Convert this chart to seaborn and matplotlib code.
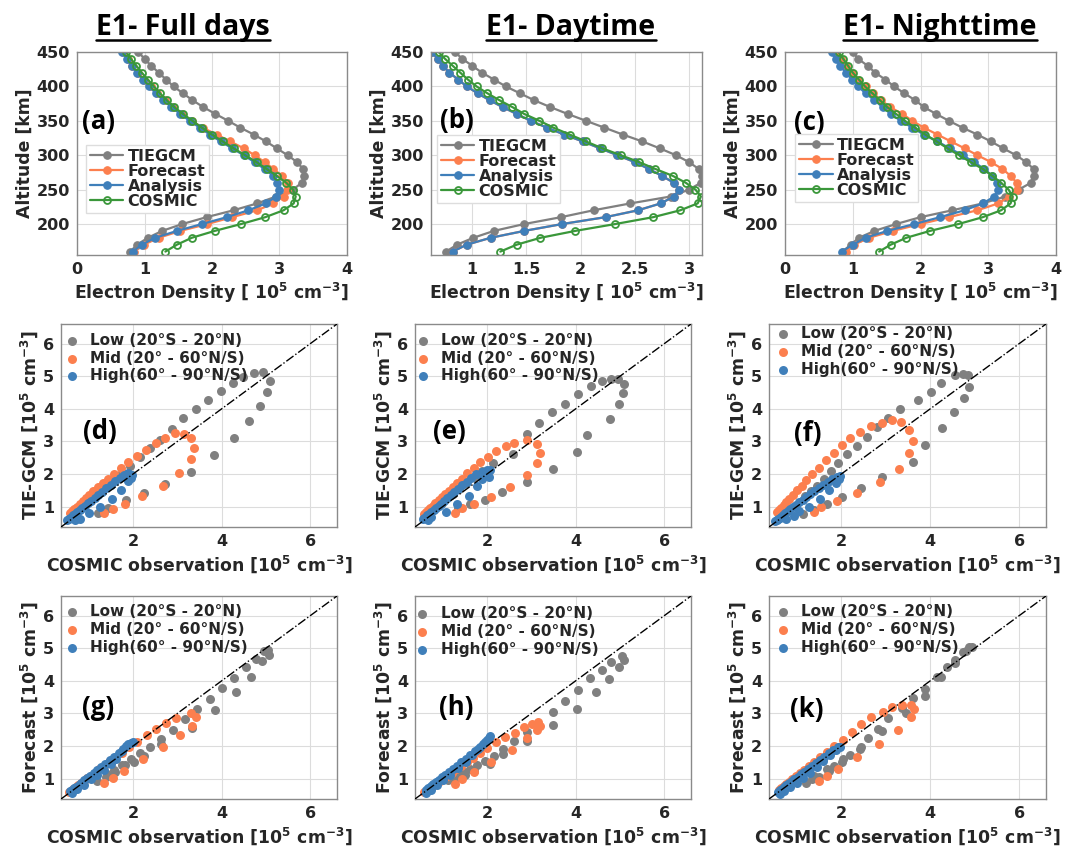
import matplotlib
matplotlib.use("Agg")
import matplotlib.pyplot as plt
import seaborn as sns
from matplotlib.lines import Line2D

sns.set_style("white")
plt.rcParams["font.family"] = ["DejaVu Sans"]
plt.rcParams["font.weight"] = "bold"
plt.rcParams["axes.labelweight"] = "bold"
plt.rcParams["mathtext.fontset"] = "dejavusans"
plt.rcParams["mathtext.default"] = "bf"

# ---------------- data ----------------
altitude = [160, 170, 180, 190, 200, 210, 220, 230, 240, 250, 260, 270, 280, 290, 300,
            310, 320, 330, 340, 350, 360, 370, 380, 390, 400, 410, 420, 430, 440, 450]

series_names = ["TIEGCM", "Forecast", "Analysis", "COSMIC"]

# (a) Full days
a_tiegcm = [0.79, 0.89, 1.05, 1.26, 1.56, 1.92, 2.32, 2.67, 2.95, 3.20, 3.33, 3.37, 3.35, 3.26, 3.12,
            2.96, 2.80, 2.62, 2.42, 2.24, 2.05, 1.87, 1.71, 1.57, 1.43, 1.32, 1.21, 1.10, 1.00, 0.91]
a_forecast = [0.84, 0.99, 1.21, 1.53, 1.93, 2.30, 2.67, 2.91, 3.06, 3.11, 3.12, 3.04, 2.91, 2.78, 2.63,
              2.47, 2.27, 2.07, 1.86, 1.70, 1.55, 1.42, 1.30, 1.19, 1.09, 0.99, 0.90, 0.82, 0.75, 0.68]
a_analysis = [0.83, 0.96, 1.16, 1.48, 1.85, 2.22, 2.54, 2.80, 2.95, 3.00, 2.97, 2.91, 2.78, 2.63, 2.47,
              2.30, 2.13, 1.97, 1.82, 1.67, 1.53, 1.40, 1.28, 1.17, 1.07, 0.98, 0.89, 0.81, 0.74, 0.67]
a_cosmic = [1.31, 1.48, 1.70, 2.04, 2.43, 2.79, 3.06, 3.21, 3.24, 3.20, 3.10, 2.96, 2.81, 2.66, 2.49,
            2.32, 2.16, 2.00, 1.85, 1.71, 1.57, 1.44, 1.33, 1.23, 1.14, 1.05, 0.96, 0.88, 0.80, 0.73]

# (b) Daytime
b_tiegcm = [0.76, 0.86, 1.01, 1.20, 1.48, 1.82, 2.12, 2.46, 2.83, 3.00, 3.11, 3.12, 3.09, 3.00, 2.88,
            2.73, 2.57, 2.39, 2.22, 2.05, 1.88, 1.72, 1.57, 1.44, 1.31, 1.20, 1.09, 1.00, 0.91, 0.84]
b_forecast = [0.82, 0.95, 1.17, 1.48, 1.83, 2.23, 2.53, 2.74, 2.86, 2.91, 2.86, 2.75, 2.63, 2.50, 2.34,
              2.18, 2.02, 1.85, 1.69, 1.54, 1.41, 1.28, 1.16, 1.05, 0.95, 0.87, 0.79, 0.73, 0.68, 0.63]
b_analysis = [0.82, 0.95, 1.17, 1.48, 1.83, 2.23, 2.53, 2.74, 2.86, 2.91, 2.86, 2.75, 2.63, 2.50, 2.34,
              2.18, 2.02, 1.85, 1.69, 1.54, 1.41, 1.28, 1.16, 1.05, 0.95, 0.87, 0.79, 0.73, 0.68, 0.63]
b_cosmic = [1.26, 1.41, 1.63, 1.95, 2.32, 2.67, 2.92, 3.08, 3.11, 3.06, 2.97, 2.85, 2.69, 2.54, 2.37,
            2.20, 2.05, 1.90, 1.75, 1.62, 1.48, 1.37, 1.25, 1.14, 1.04, 0.96, 0.89, 0.82, 0.75, 0.69]

# (c) Nighttime
c_tiegcm = [0.85, 0.97, 1.09, 1.32, 1.64, 2.00, 2.47, 2.92, 3.25, 3.45, 3.63, 3.68, 3.67, 3.56, 3.41,
            3.22, 3.04, 2.84, 2.62, 2.42, 2.23, 2.05, 1.92, 1.76, 1.61, 1.48, 1.33, 1.22, 1.08, 1.00]
c_forecast = [0.90, 1.02, 1.24, 1.59, 2.00, 2.42, 2.84, 3.15, 3.31, 3.42, 3.42, 3.33, 3.21, 3.04, 2.84,
              2.65, 2.45, 2.25, 2.05, 1.88, 1.73, 1.55, 1.42, 1.30, 1.19, 1.08, 0.99, 0.90, 0.82, 0.75]
c_analysis = [0.84, 1.00, 1.19, 1.51, 1.91, 2.29, 2.65, 2.92, 3.09, 3.15, 3.13, 3.06, 2.94, 2.79, 2.62,
              2.43, 2.25, 2.05, 1.88, 1.71, 1.56, 1.44, 1.32, 1.19, 1.08, 0.99, 0.90, 0.81, 0.75, 0.69]
c_cosmic = [1.39, 1.56, 1.79, 2.14, 2.56, 2.92, 3.19, 3.33, 3.36, 3.30, 3.19, 3.06, 2.92, 2.74, 2.57,
            2.40, 2.24, 2.07, 1.92, 1.77, 1.64, 1.51, 1.40, 1.29, 1.18, 1.09, 1.00, 0.93, 0.86, 0.79]

band_names = ["Low (20°S - 20°N)", "Mid (20° - 60°N/S)", "High(60° - 90°N/S)"]

# (d) TIE-GCM vs COSMIC, full days
d_low_x = [1.22, 1.45, 1.85, 2.26, 2.73, 3.31, 3.83, 4.28, 4.62, 4.87, 5.03, 5.08, 4.93, 4.72, 4.49,
           4.25, 3.98, 3.69, 3.42, 3.13, 2.88, 2.62, 2.38, 2.17, 1.94, 1.75, 1.58, 1.42, 1.28, 1.15]
d_low_y = [0.82, 0.95, 1.20, 1.43, 1.70, 2.08, 2.58, 3.10, 3.63, 4.10, 4.52, 4.84, 5.12, 5.09, 4.97,
           4.80, 4.55, 4.28, 3.99, 3.71, 3.38, 3.05, 2.80, 2.51, 2.25, 2.02, 1.82, 1.62, 1.45, 1.30]
d_mid_x = [1.35, 1.56, 1.83, 2.20, 2.67, 3.05, 3.30, 3.37, 3.31, 3.15, 2.96, 2.72, 2.51, 2.29, 2.09,
           1.88, 1.73, 1.58, 1.44, 1.32, 1.21, 1.11, 1.02, 0.94, 0.87, 0.80, 0.74, 0.68, 0.63, 0.58]
d_mid_y = [0.81, 0.94, 1.10, 1.32, 1.65, 2.03, 2.46, 2.81, 3.10, 3.23, 3.25, 3.12, 2.95, 2.74, 2.56,
           2.37, 2.20, 2.00, 1.85, 1.72, 1.60, 1.48, 1.37, 1.27, 1.17, 1.08, 1.00, 0.93, 0.86, 0.80]
d_high_x = [0.69, 0.81, 1.00, 1.26, 1.54, 1.74, 1.90, 1.95, 1.97, 1.90, 1.80, 1.70, 1.60, 1.50, 1.40,
            1.31, 1.22, 1.14, 1.06, 0.99, 0.92, 0.86, 0.80, 0.75, 0.70, 0.66, 0.62, 0.58, 0.55, 0.52]
d_high_y = [0.59, 0.64, 0.82, 1.00, 1.24, 1.51, 1.78, 1.88, 1.98, 2.02, 1.98, 1.88, 1.78, 1.67, 1.56,
            1.46, 1.36, 1.27, 1.19, 1.11, 1.03, 0.96, 0.90, 0.84, 0.79, 0.74, 0.70, 0.66, 0.62, 0.59]

# (e) TIE-GCM vs COSMIC, daytime
e_low_x = [1.35, 1.62, 1.95, 2.35, 2.90, 3.50, 4.03, 4.26, 4.78, 4.97, 5.07, 5.08, 4.95, 4.80, 4.60,
           4.35, 4.05, 3.77, 3.47, 3.17, 2.90, 2.58, 2.14, 1.90, 1.70, 1.52, 1.37, 1.23, 1.10, 0.98]
e_low_y = [0.95, 1.08, 1.22, 1.46, 1.76, 2.17, 2.67, 3.21, 3.69, 4.14, 4.50, 4.75, 4.90, 4.93, 4.85,
           4.70, 4.45, 4.16, 3.89, 3.56, 3.23, 2.62, 2.33, 2.10, 1.90, 1.72, 1.55, 1.40, 1.26, 1.13]
e_mid_x = [1.29, 1.44, 1.70, 2.10, 2.53, 2.90, 3.13, 3.20, 3.13, 2.90, 2.62, 2.42, 2.21, 2.02, 1.85,
           1.70, 1.56, 1.44, 1.33, 1.23, 1.14, 1.06, 0.98, 0.91, 0.84, 0.78, 0.72, 0.67, 0.62, 0.58]
e_mid_y = [0.82, 0.95, 1.07, 1.30, 1.61, 1.96, 2.35, 2.65, 2.93, 3.04, 2.95, 2.86, 2.70, 2.54, 2.38,
           2.20, 2.02, 1.86, 1.72, 1.60, 1.49, 1.39, 1.29, 1.20, 1.11, 1.03, 0.96, 0.89, 0.83, 0.77]
e_high_x = [0.68, 0.74, 1.07, 1.32, 1.59, 1.77, 1.88, 2.04, 2.08, 2.00, 1.88, 1.76, 1.65, 1.55, 1.45,
            1.36, 1.27, 1.19, 1.11, 1.04, 0.97, 0.91, 0.85, 0.80, 0.75, 0.70, 0.66, 0.62, 0.58, 0.55]
e_high_y = [0.60, 0.70, 0.85, 1.10, 1.33, 1.63, 1.85, 1.91, 2.12, 2.13, 2.08, 2.00, 1.88, 1.77, 1.66,
            1.55, 1.45, 1.35, 1.26, 1.18, 1.10, 1.03, 0.96, 0.90, 0.84, 0.79, 0.74, 0.69, 0.65, 0.61]

# (f) TIE-GCM vs COSMIC, nighttime
f_low_x = [1.14, 1.40, 1.68, 2.01, 2.44, 2.92, 3.62, 3.89, 4.27, 4.53, 4.76, 4.88, 4.85, 4.73, 4.55,
           4.25, 4.01, 3.72, 3.33, 3.05, 2.81, 2.57, 2.35, 2.13, 1.94, 1.78, 1.61, 1.46, 1.32, 1.19]
f_low_y = [0.77, 0.90, 1.10, 1.30, 1.57, 1.90, 2.38, 2.88, 3.41, 3.91, 4.34, 4.66, 5.05, 5.06, 5.03,
           4.78, 4.51, 4.27, 4.01, 3.71, 3.44, 3.13, 2.86, 2.61, 2.34, 2.10, 1.85, 1.65, 1.48, 1.33]
f_mid_x = [1.40, 1.55, 1.90, 2.35, 2.87, 3.31, 3.53, 3.62, 3.52, 3.35, 3.15, 2.92, 2.67, 2.42, 2.20,
           2.01, 1.83, 1.66, 1.50, 1.35, 1.22, 1.11, 1.01, 0.92, 0.84, 0.77, 0.71, 0.66, 0.61, 0.57]
f_mid_y = [0.85, 1.00, 1.18, 1.42, 1.77, 2.15, 2.64, 3.01, 3.36, 3.61, 3.66, 3.56, 3.46, 3.29, 3.11,
           2.88, 2.66, 2.43, 2.20, 2.00, 1.82, 1.65, 1.50, 1.37, 1.25, 1.14, 1.05, 0.97, 0.90, 0.84]
f_high_x = [0.76, 0.95, 1.05, 1.27, 1.53, 1.72, 1.88, 1.95, 1.97, 1.90, 1.80, 1.70, 1.60, 1.50, 1.40,
            1.31, 1.22, 1.14, 1.06, 0.99, 0.92, 0.86, 0.80, 0.75, 0.70, 0.66, 0.62, 0.58, 0.55, 0.52]
f_high_y = [0.62, 0.72, 0.88, 1.00, 1.25, 1.50, 1.72, 1.85, 1.93, 1.92, 1.84, 1.76, 1.67, 1.58, 1.49,
            1.40, 1.31, 1.22, 1.14, 1.06, 0.99, 0.92, 0.86, 0.80, 0.75, 0.70, 0.66, 0.62, 0.59, 0.56]

# (g) Forecast vs COSMIC, full days
g_low_x = [1.20, 1.40, 1.60, 1.83, 2.02, 2.24, 2.64, 3.34, 3.86, 4.32, 4.66, 4.92, 5.07, 5.05, 4.96,
           4.77, 4.54, 4.28, 4.00, 3.74, 3.45, 3.18, 2.90, 2.64, 2.39, 2.15, 1.95, 1.75, 1.58, 1.42]
g_low_y = [0.93, 1.05, 1.20, 1.42, 1.52, 1.69, 2.07, 2.57, 3.11, 3.67, 4.12, 4.60, 4.80, 4.95, 4.90,
           4.68, 4.43, 4.10, 3.79, 3.44, 3.14, 2.84, 2.50, 2.22, 1.96, 1.78, 1.60, 1.42, 1.28, 1.16]
g_mid_x = [1.36, 1.55, 1.80, 2.22, 2.68, 3.07, 3.34, 3.43, 3.30, 2.98, 2.75, 2.52, 2.32, 2.10, 1.92,
           1.75, 1.60, 1.47, 1.35, 1.24, 1.14, 1.05, 0.97, 0.90, 0.83, 0.77, 0.71, 0.66, 0.61, 0.57]
g_mid_y = [0.88, 1.02, 1.25, 1.60, 1.97, 2.35, 2.63, 2.88, 3.00, 2.85, 2.70, 2.52, 2.33, 2.13, 1.97,
           1.80, 1.65, 1.52, 1.40, 1.29, 1.19, 1.09, 1.01, 0.93, 0.86, 0.80, 0.74, 0.69, 0.64, 0.60]
g_high_x = [0.62, 0.75, 0.90, 1.05, 1.20, 1.35, 1.50, 1.62, 1.75, 1.85, 1.95, 2.00, 1.90, 1.78, 1.68,
            1.58, 1.48, 1.38, 1.29, 1.20, 1.12, 1.04, 0.97, 0.90, 0.84, 0.78, 0.72, 0.67, 0.62, 0.58]
g_high_y = [0.55, 0.68, 0.82, 0.98, 1.12, 1.28, 1.45, 1.62, 1.85, 2.00, 2.10, 2.12, 2.05, 1.92, 1.80,
            1.68, 1.57, 1.46, 1.36, 1.27, 1.18, 1.10, 1.02, 0.95, 0.88, 0.82, 0.76, 0.71, 0.66, 0.61]

# (h) Forecast vs COSMIC, daytime
h_low_x = [1.29, 1.50, 1.70, 2.08, 2.36, 2.90, 3.50, 4.03, 4.46, 4.76, 4.97, 5.08, 5.05, 4.80, 4.59,
           4.32, 4.05, 3.77, 3.48, 2.90, 2.62, 2.36, 2.15, 1.95, 1.78, 1.62, 1.48, 1.35, 1.23, 1.12]
h_low_y = [0.98, 1.12, 1.23, 1.44, 1.77, 2.15, 2.65, 3.15, 3.66, 4.06, 4.41, 4.65, 4.75, 4.57, 4.33,
           4.09, 3.72, 3.39, 3.06, 2.42, 2.17, 1.90, 1.70, 1.55, 1.42, 1.30, 1.20, 1.10, 1.02, 0.95]
h_mid_x = [1.29, 1.45, 1.72, 2.10, 2.56, 2.90, 3.13, 3.20, 3.15, 3.02, 2.83, 2.64, 2.41, 2.20, 2.00,
           1.84, 1.69, 1.55, 1.42, 1.31, 1.21, 1.11, 1.03, 0.95, 0.88, 0.81, 0.75, 0.69, 0.64, 0.59]
h_mid_y = [0.84, 0.99, 1.22, 1.52, 1.88, 2.25, 2.48, 2.63, 2.74, 2.68, 2.58, 2.40, 2.28, 2.12, 1.95,
           1.80, 1.65, 1.52, 1.40, 1.29, 1.19, 1.10, 1.02, 0.94, 0.87, 0.80, 0.74, 0.68, 0.63, 0.58]
h_high_x = [0.62, 0.75, 0.88, 1.02, 1.18, 1.35, 1.52, 1.66, 1.81, 1.92, 2.00, 2.08, 2.05, 1.95, 1.84,
            1.73, 1.62, 1.52, 1.42, 1.32, 1.23, 1.14, 1.06, 0.98, 0.91, 0.85, 0.79, 0.73, 0.68, 0.63]
h_high_y = [0.55, 0.66, 0.80, 0.95, 1.12, 1.32, 1.52, 1.72, 1.90, 2.07, 2.20, 2.30, 2.25, 2.12, 1.98,
            1.85, 1.73, 1.61, 1.50, 1.40, 1.30, 1.21, 1.12, 1.04, 0.96, 0.89, 0.83, 0.77, 0.71, 0.66]

# (k) Forecast vs COSMIC, nighttime
k_low_x = [1.21, 1.35, 1.50, 1.72, 1.83, 2.01, 2.20, 2.42, 2.60, 2.82, 3.06, 3.37, 3.61, 3.89, 4.16,
           4.38, 4.55, 4.74, 4.88, 4.93, 4.80, 4.55, 4.25, 3.89, 3.45, 2.92, 2.45, 2.05, 1.68, 1.40]
k_low_y = [0.88, 0.98, 1.05, 1.23, 1.38, 1.50, 1.74, 1.91, 2.25, 2.52, 2.86, 3.16, 3.46, 3.74, 4.12,
           4.41, 4.65, 4.89, 5.04, 5.05, 4.90, 4.55, 4.12, 3.54, 3.01, 2.45, 1.98, 1.62, 1.30, 1.10]
k_mid_x = [1.50, 1.68, 1.94, 2.36, 2.85, 3.28, 3.57, 3.63, 3.56, 3.36, 3.15, 2.93, 2.68, 2.44, 2.24,
           2.04, 1.85, 1.68, 1.53, 1.40, 1.28, 1.17, 1.07, 0.98, 0.90, 0.83, 0.77, 0.71, 0.66, 0.61]
k_mid_y = [0.92, 1.08, 1.30, 1.66, 2.07, 2.50, 2.88, 3.13, 3.26, 3.25, 3.20, 3.05, 2.88, 2.68, 2.42,
           2.20, 2.00, 1.82, 1.66, 1.52, 1.39, 1.27, 1.17, 1.07, 0.98, 0.90, 0.83, 0.77, 0.71, 0.66]
k_high_x = [0.62, 0.72, 0.85, 1.00, 1.15, 1.30, 1.45, 1.60, 1.75, 1.88, 1.97, 1.92, 1.82, 1.72, 1.62,
            1.52, 1.43, 1.34, 1.25, 1.17, 1.09, 1.02, 0.95, 0.89, 0.83, 0.77, 0.72, 0.67, 0.62, 0.58]
k_high_y = [0.52, 0.62, 0.74, 0.88, 1.02, 1.17, 1.35, 1.55, 1.72, 1.88, 1.98, 1.97, 1.88, 1.78, 1.68,
            1.58, 1.48, 1.39, 1.30, 1.22, 1.14, 1.06, 0.99, 0.92, 0.86, 0.80, 0.75, 0.70, 0.65, 0.60]

titles = ["E1- Full days", "E1- Daytime", "E1- Nighttime"]

# ---------------- style ----------------
C_GRAY = "#808080"
C_ORANGE = "#FC7F4E"
C_BLUE = "#3F7FBA"
C_GREEN = "#3A973A"
TXT = "#262626"
profile_colors = [C_GRAY, C_ORANGE, C_BLUE, C_GREEN]
band_colors = [C_GRAY, C_ORANGE, C_BLUE]

W, H = 1076, 850
fig = plt.figure(figsize=(W / 100, H / 100), dpi=100)

TICK_FS = 11.5
LABEL_FS = 12.4


def px_axes(l, r, t, b):
    return fig.add_axes([l / W, 1 - b / H, (r - l) / W, (b - t) / H])


def style_axes(ax):
    ax.set_facecolor("white")
    for s in ax.spines.values():
        s.set_color("#8a8a8a")
        s.set_linewidth(1.0)
    ax.grid(True, color="#dcdcdc", linewidth=0.8)
    ax.set_axisbelow(True)
    ax.tick_params(direction="in", length=3, width=0.8, color="#8a8a8a",
                   labelsize=TICK_FS, labelcolor=TXT, pad=5)
    for lab in ax.get_xticklabels() + ax.get_yticklabels():
        lab.set_fontweight("bold")


def profile_panel(ax, vals, xlim, xticks, xticklabels, letter, leg_anchor, let_pos):
    for name, v, c in zip(series_names, vals, profile_colors):
        open_m = name == "COSMIC"
        sns.lineplot(x=v, y=altitude, sort=False, estimator=None, ax=ax, color=c,
                     marker="o", markersize=5.4 if not open_m else 5.0,
                     markerfacecolor="none" if open_m else c,
                     markeredgecolor=c, markeredgewidth=1.3 if open_m else 0.8,
                     linewidth=1.6, label=name)
    ax.set_xlim(*xlim)
    ax.set_ylim(155, 450)
    ax.set_xticks(xticks)
    ax.set_xticklabels(xticklabels)
    ax.set_yticks([200, 250, 300, 350, 400, 450])
    style_axes(ax)
    ax.set_xlabel("Electron Density [ 10$^5$ cm$^{-3}$]", fontsize=LABEL_FS,
                  fontweight="bold", color=TXT, labelpad=3)
    ax.set_ylabel("Altitude [km]", fontsize=LABEL_FS, fontweight="bold", color=TXT, labelpad=2)
    leg = ax.legend(loc="lower left", bbox_to_anchor=leg_anchor, frameon=True,
                    fancybox=False, edgecolor="#dddddd", framealpha=1,
                    prop={"weight": "bold", "size": 11.5}, handlelength=2.1,
                    handletextpad=0.25, labelspacing=0.0, borderpad=0.25,
                    borderaxespad=0)
    for t in leg.get_texts():
        t.set_color(TXT)
    ax.text(let_pos[0], let_pos[1], letter, transform=ax.transAxes, ha="left",
            va="center", fontsize=18.5, fontweight="bold", family="Open Sans", color="black")


def scatter_panel(ax, xs, ys, ylabel, letter, leg_anchor, let_pos):
    for name, x, y, c in zip(band_names, xs, ys, band_colors):
        sns.scatterplot(x=x, y=y, ax=ax, color=c, s=42, linewidth=0, label=name, zorder=3)
    ax.set_xlim(0.38, 6.6)
    ax.set_ylim(0.38, 6.6)
    ax.axline((1, 1), slope=1, color="black", linestyle="-.", linewidth=1.0, zorder=4)
    ax.set_xticks([2, 4, 6])
    ax.set_yticks([1, 2, 3, 4, 5, 6])
    style_axes(ax)
    ax.set_xlabel("COSMIC observation [10$^5$ cm$^{-3}$]", fontsize=LABEL_FS,
                  fontweight="bold", color=TXT, labelpad=3)
    ax.set_ylabel(ylabel, fontsize=LABEL_FS, fontweight="bold", color=TXT, labelpad=2)
    leg = ax.legend(loc="upper left", bbox_to_anchor=leg_anchor, frameon=False,
                    prop={"weight": "bold", "size": 11}, handlelength=0.8,
                    handletextpad=0.8, labelspacing=0.18, borderaxespad=0,
                    borderpad=0, markerscale=1.0)
    for t in leg.get_texts():
        t.set_color(TXT)
    ax.text(let_pos[0], let_pos[1], letter, transform=ax.transAxes, ha="left",
            va="center", fontsize=18.5, fontweight="bold", family="Open Sans", color="black")


# row 1: profiles
ax_a = px_axes(77, 347, 52, 255)
profile_panel(ax_a, [a_tiegcm, a_forecast, a_analysis, a_cosmic], (0, 4),
              [0, 1, 2, 3, 4], ["0", "1", "2", "3", "4"], "(a)", (0.033, 0.207), (0.02, 0.66))
ax_b = px_axes(431, 702, 52, 255)
profile_panel(ax_b, [b_tiegcm, b_forecast, b_analysis, b_cosmic], (0.62, 3.12),
              [1, 1.5, 2, 2.5, 3], ["1", "1.5", "2", "2.5", "3"], "(b)", (0.022, 0.256), (0.033, 0.665))
ax_c = px_axes(785, 1056, 52, 255)
profile_panel(ax_c, [c_tiegcm, c_forecast, c_analysis, c_cosmic], (0, 4),
              [0, 1, 2, 3, 4], ["0", "1", "2", "3", "4"], "(c)", (0.037, 0.261), (0.033, 0.655))

# row 2: TIE-GCM vs COSMIC
ylab_t = "TIE-GCM [10$^5$ cm$^{-3}$]"
ylab_f = "Forecast [10$^5$ cm$^{-3}$]"
ax_d = px_axes(61, 337, 324, 527)
scatter_panel(ax_d, [d_low_x, d_mid_x, d_high_x], [d_low_y, d_mid_y, d_high_y], ylab_t,
              "(d)", (0.018, 0.956), (0.08, 0.468))
ax_e = px_axes(415, 691, 324, 527)
scatter_panel(ax_e, [e_low_x, e_mid_x, e_high_x], [e_low_y, e_mid_y, e_high_y], ylab_t,
              "(e)", (0.007, 0.956), (0.065, 0.468))
ax_f = px_axes(769, 1046, 324, 527)
scatter_panel(ax_f, [f_low_x, f_mid_x, f_high_x], [f_low_y, f_mid_y, f_high_y], ylab_t,
              "(f)", (0.029, 0.99), (0.09, 0.46))

# row 3: Forecast vs COSMIC
ax_g = px_axes(61, 337, 596, 799)
scatter_panel(ax_g, [g_low_x, g_mid_x, g_high_x], [g_low_y, g_mid_y, g_high_y], ylab_f,
              "(g)", (0.018, 0.96), (0.075, 0.453))
ax_h = px_axes(415, 691, 596, 799)
scatter_panel(ax_h, [h_low_x, h_mid_x, h_high_x], [h_low_y, h_mid_y, h_high_y], ylab_f,
              "(h)", (0.004, 0.95), (0.087, 0.453))
ax_k = px_axes(769, 1046, 596, 799)
scatter_panel(ax_k, [k_low_x, k_mid_x, k_high_x], [k_low_y, k_mid_y, k_high_y], ylab_f,
              "(k)", (0.029, 0.96), (0.076, 0.44))

# column titles with underline
title_x = [183, 571, 940]
title_objs = []
for tx, tt in zip(title_x, titles):
    title_objs.append(fig.text(tx / W, 1 - 35 / H, tt, ha="center", va="baseline",
                               fontsize=20.5, fontweight="bold", family="Open Sans",
                               color="black"))
fig.canvas.draw()
rend = fig.canvas.get_renderer()
for t in title_objs:
    bb = t.get_window_extent(rend).transformed(fig.transFigure.inverted())
    fig.add_artist(Line2D([bb.x0, bb.x1], [1 - 39.5 / H, 1 - 39.5 / H],
                          transform=fig.transFigure, color="black", linewidth=1.8))

fig.savefig("out.png", dpi=100, facecolor="white")
